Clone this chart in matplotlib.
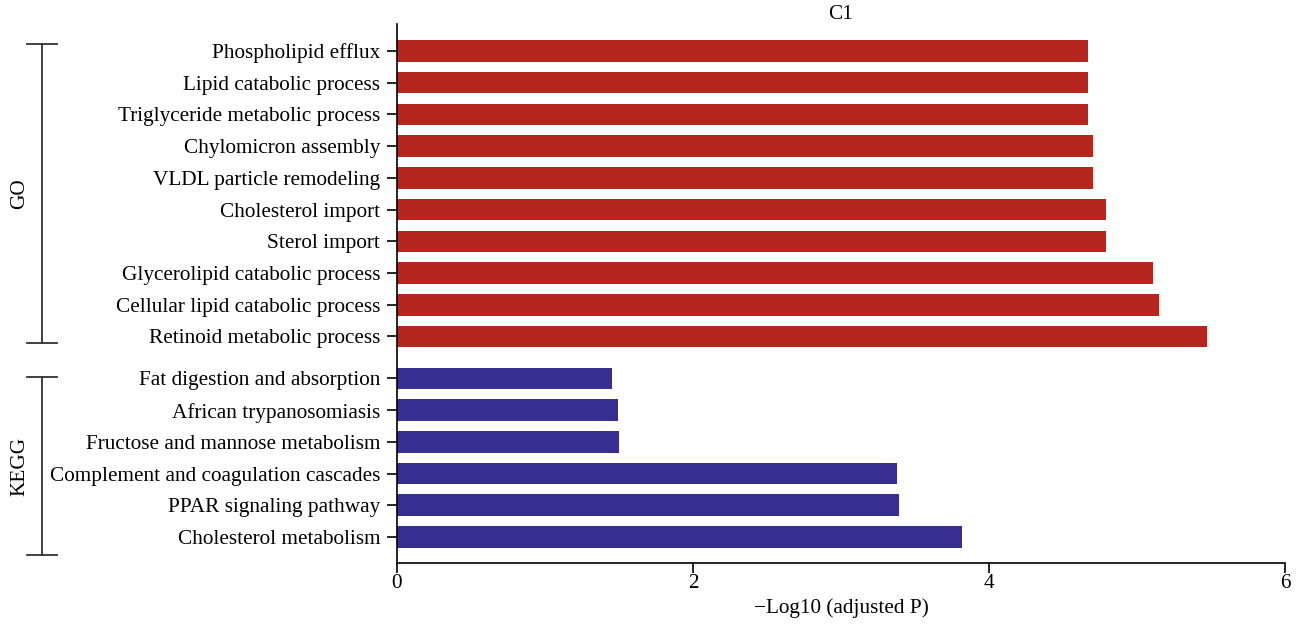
import numpy as np
import matplotlib.pyplot as plt
import matplotlib.transforms as mtransforms

plt.rcParams['font.family'] = ['Liberation Serif', 'DejaVu Serif']

go_terms = ["Phospholipid efflux", "Lipid catabolic process", "Triglyceride metabolic process",
            "Chylomicron assembly", "VLDL particle remodeling", "Cholesterol import",
            "Sterol import", "Glycerolipid catabolic process", "Cellular lipid catabolic process",
            "Retinoid metabolic process"]
go_values = [4.67, 4.67, 4.67, 4.70, 4.70, 4.79, 4.79, 5.11, 5.15, 5.47]

kegg_terms = ["Fat digestion and absorption", "African trypanosomiasis",
              "Fructose and mannose metabolism", "Complement and coagulation cascades",
              "PPAR signaling pathway", "Cholesterol metabolism"]
kegg_values = [1.45, 1.49, 1.50, 3.38, 3.39, 3.82]

red = "#b5261e"
blue = "#382e91"
fs = 15.3

# positions, bottom to top
kegg_pos = np.arange(len(kegg_terms))[::-1]
go_start = len(kegg_terms) + 0.32
go_pos = go_start + np.arange(len(go_terms))[::-1]

fig = plt.figure(figsize=(13.06, 6.33), dpi=100)
ax = fig.add_axes([397/1306, 1 - 563/633, 888/1306, (563-24)/633])

ax.barh(go_pos, go_values, height=0.68, color=red)
ax.barh(kegg_pos, kegg_values, height=0.68, color=blue)

ax.set_yticks(list(go_pos) + list(kegg_pos))
ax.set_yticklabels(go_terms + kegg_terms, fontsize=fs)
ax.set_ylim(-0.82, go_pos[0] + 0.85)
ax.set_xlim(0, 6)
ax.set_xticks([0, 2, 4, 6])
ax.tick_params(axis='x', labelsize=fs, length=7, width=1.2, pad=1)
ax.tick_params(axis='y', length=7, width=1.2, pad=5)
for s in ['top', 'right']:
    ax.spines[s].set_visible(False)
for s in ['left', 'bottom']:
    ax.spines[s].set_linewidth(1.2)

ax.set_xlabel("\u2212Log10 (adjusted P)", fontsize=fs, labelpad=4)
ax.set_title("C1", fontsize=fs, pad=0)

# group brackets
trans = mtransforms.blended_transform_factory(ax.transAxes, ax.transData)
bx, cap = -0.400, 0.017
groups = [("GO", go_pos[0] + 0.23, go_pos[-1] - 0.22),
          ("KEGG", kegg_pos[0] + 0.03, kegg_pos[-1] - 0.57)]
for name, top, bot in groups:
    ax.plot([bx, bx], [bot, top], color="#333333", lw=1.3, transform=trans, clip_on=False)
    ax.plot([bx - cap, bx + cap], [top, top], color="#333333", lw=1.3, transform=trans, clip_on=False)
    ax.plot([bx - cap, bx + cap], [bot, bot], color="#333333", lw=1.3, transform=trans, clip_on=False)
    ax.text(bx - 0.025, (top + bot) / 2, name, rotation=90, ha='center', va='center',
            fontsize=fs, transform=trans)

fig.savefig("out.png", dpi=100)
